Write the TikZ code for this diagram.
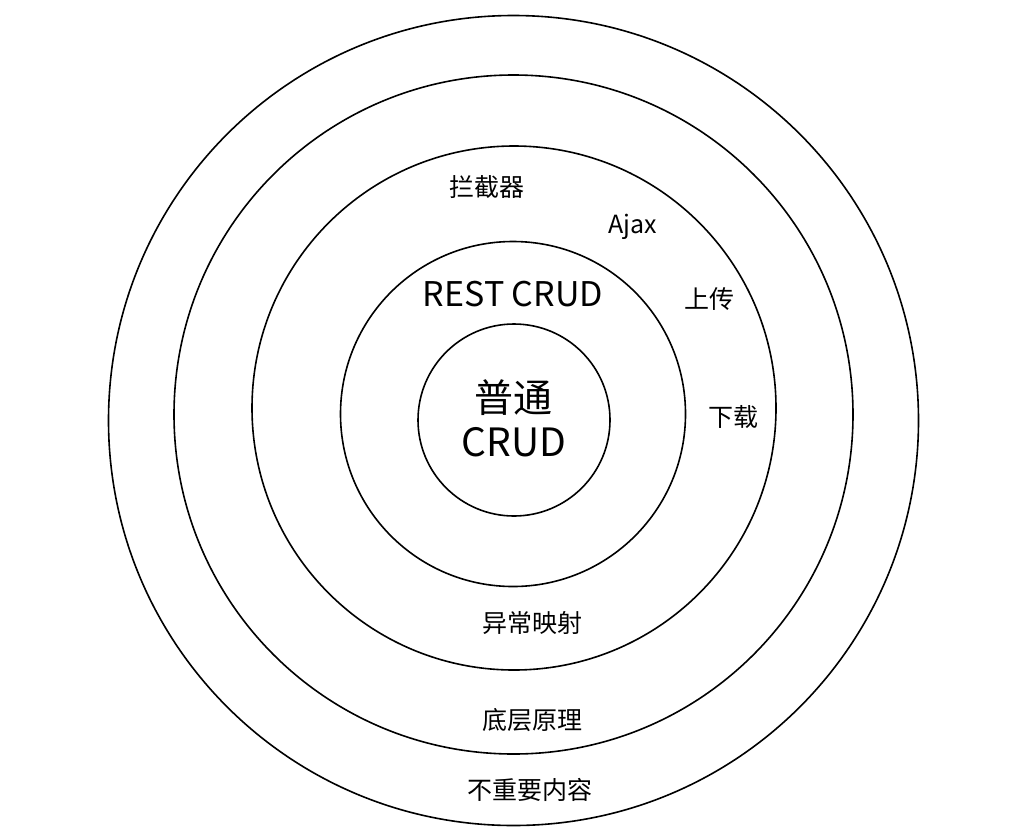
\documentclass[tikz,border=0pt]{standalone}
\usepackage{fontspec}
\setmainfont{Noto Sans CJK SC}
\tikzset{
	ring/.style={draw=black, circle, line width=1.6pt, inner sep=0pt},
	tag/.style={inner sep=0pt, font=\fontsize{25}{30}\selectfont},
	midtag/.style={inner sep=0pt, font=\fontsize{34}{40}\selectfont},
	bigtag/.style={inner sep=0pt, font=\fontsize{39}{46}\selectfont},
}
\begin{document}
\begin{tikzpicture}[x=1pt, y=-1pt]
	\useasboundingbox (0,0) rectangle (1030,839);
	% rings, outside in
	\node[ring, minimum size=810pt] (outer) at (513.5,420.5) {};
	\node[ring, minimum size=679pt] (second) at (513.5,414.5) {};
	\node[ring, minimum size=524pt] (third) at (514,408) {};
	\node[ring, minimum size=345pt] (fourth) at (513,414) {};
	\node[ring, minimum size=192pt] (core) at (514,420) {};
	% core
	\node[bigtag] (putong) at (513,398) {普通};
	\node[bigtag] (crud) at (514,442) {CRUD};
	% fourth ring
	\node[midtag] (rest) at (513,294) {REST CRUD};
	% third ring
	\node[tag] (lanjie) at (487,187) {拦截器};
	\node[tag] (ajax) at (633,227) {Ajax};
	\node[tag] (shangchuan) at (709,299) {上传};
	\node[tag] (xiazai) at (733,417) {下载};
	\node[tag] (yichang) at (532,623) {异常映射};
	% second ring
	\node[tag] (diceng) at (532,720) {底层原理};
	% outer ring
	\node[tag] (buzhongyao) at (530,790) {不重要内容};
\end{tikzpicture}
\end{document}
